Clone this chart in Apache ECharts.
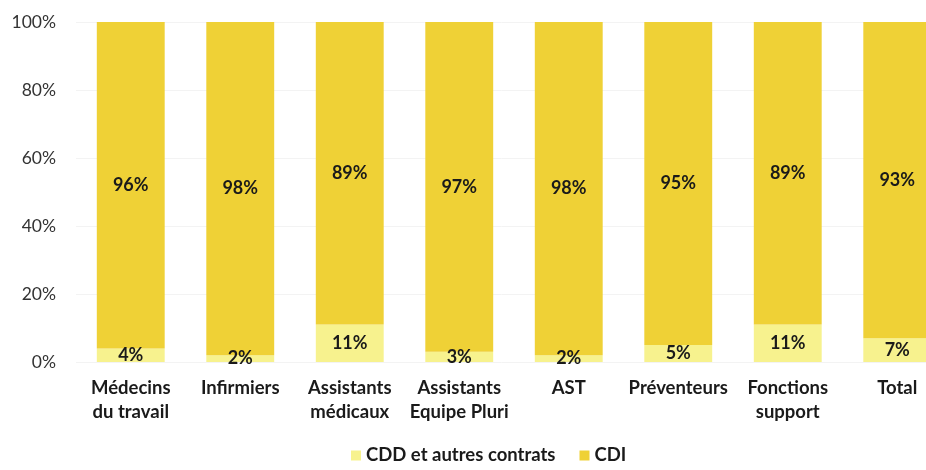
<!DOCTYPE html>
<html><head><meta charset="utf-8">
<script src="https://cdn.jsdelivr.net/npm/echarts@6/dist/echarts.min.js"></script>
<style>html,body{margin:0;padding:0;background:#fff}#c{width:926px;height:470px}</style>
</head><body><div id="c"></div>
<script>
const categories = ['Médecins\ndu travail','Infirmiers','Assistants\nmédicaux','Assistants\nEquipe Pluri','AST','Préventeurs','Fonctions\nsupport','Total'];
const cdd = [4,2,11,3,2,5,11,7];
const cdi = [96,98,89,97,98,95,89,93];
const yTicks = [0,20,40,60,80,100];
const FONT = 'Lato';
const chart = echarts.init(document.getElementById('c'));
chart.setOption({
  animation:false,
  textStyle:{fontFamily:FONT},
  grid:{left:76,width:876,top:22,height:340,outerBoundsMode:'none',containLabel:false},
  legend:{bottom:0,left:346,itemWidth:10,itemHeight:10,itemGap:24,icon:'rect',
    textStyle:{fontFamily:FONT,fontWeight:'bold',fontSize:18.5,color:'#1a1a1a'},
    data:['CDD et autres contrats','CDI']},
  xAxis:{type:'category',data:categories,axisLine:{show:false},axisTick:{show:false},
    axisLabel:{fontFamily:FONT,fontWeight:'bold',fontSize:18.5,color:'#1a1a1a',lineHeight:24,margin:14,interval:0}},
  yAxis:{type:'value',min:0,max:100,interval:20,
    axisLabel:{formatter:'{value}%',fontFamily:FONT,fontSize:17.5,color:'#333',margin:20},
    splitLine:{lineStyle:{color:'#f3f3f3'}},axisLine:{show:false},axisTick:{show:false}},
  series:[
    {name:'CDD et autres contrats',type:'bar',stack:'a',data:cdd,barWidth:'62%',
      itemStyle:{color:'#F7F28E'},
      label:{show:true,position:'inside',formatter:'{c}%',fontFamily:FONT,fontWeight:'bold',fontSize:18,color:'#1a1a1a'}},
    {name:'CDI',type:'bar',stack:'a',data:cdi,barWidth:'62%',
      itemStyle:{color:'#EFD136'},
      label:{show:true,position:'inside',formatter:'{c}%',fontFamily:FONT,fontWeight:'bold',fontSize:18,color:'#1a1a1a'}}
  ]
});
</script></body></html>
